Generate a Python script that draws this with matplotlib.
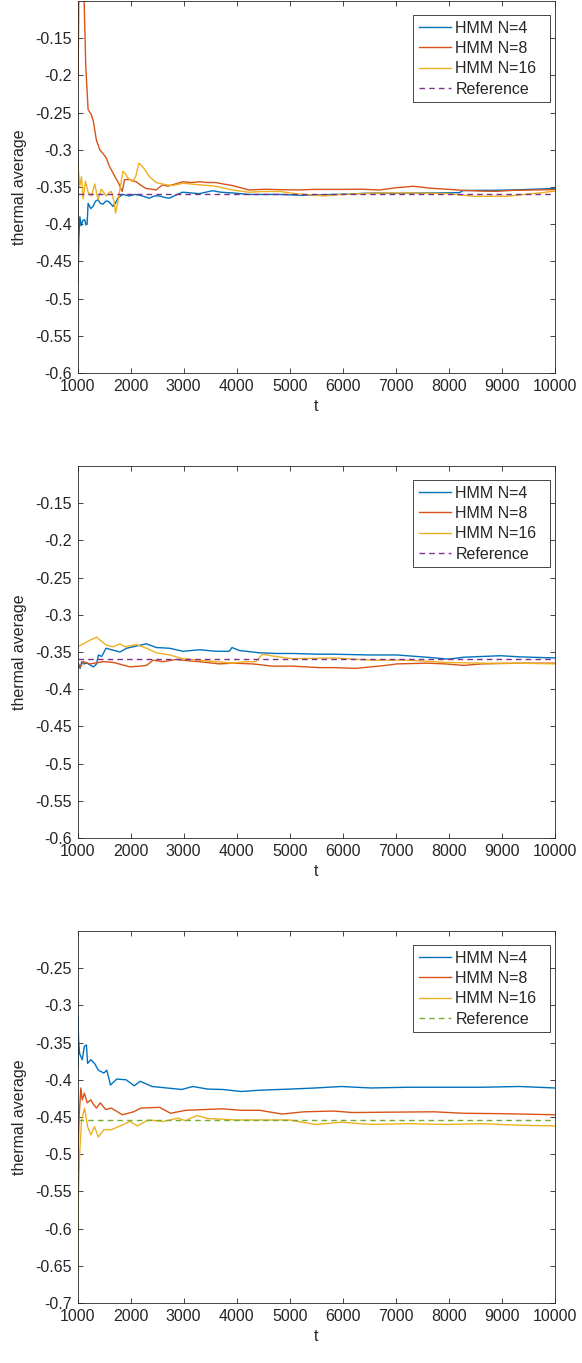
import numpy as np
from matplotlib import pyplot as plt

COLORS = ["#0072BD", "#D95319", "#EDB120", "#7E2F8E", "#77AC30"]
AX_COLOR = "#262626"

plt.rcParams.update({'font.family': ['Liberation Sans', 'DejaVu Sans'],
                     'font.size': 11.5,
                     'axes.edgecolor': AX_COLOR,
                     'axes.labelcolor': AX_COLOR,
                     'axes.linewidth': 0.6,
                     'xtick.color': AX_COLOR,
                     'ytick.color': AX_COLOR,
                     'xtick.direction': 'in',
                     'ytick.direction': 'in',
                     'xtick.major.size': 3.6,
                     'ytick.major.size': 3.6,
                     'xtick.major.width': 0.6,
                     'ytick.major.width': 0.6,
                     })

LABELS = ["HMM N=4", "HMM N=8", "HMM N=16", "Reference"]
X_TICKS = [1000, 2000, 3000, 4000, 5000, 6000, 7000, 8000, 9000, 10000]

# ---- panel 1 ----
p1_t4 = [1000, 1004, 1010, 1025, 1044, 1070, 1100, 1137, 1160, 1181, 1200, 1250, 1294, 1340, 1387, 1430,
         1481, 1530, 1575, 1620, 1668, 1720, 1762, 1810, 1856, 1920, 1981, 2080, 2168, 2260, 2356, 2450,
         2543, 2640, 2731, 2850, 2981, 3150, 3293, 3420, 3543, 3700, 3918, 4231, 4550, 4821, 5150, 5450,
         5800, 6100, 6400, 6700, 7000, 7350, 7700, 8000, 8200, 8270, 8500, 8800, 9200, 9600, 10000]
p1_v4 = [-0.235, -0.30, -0.478, -0.42, -0.39, -0.402, -0.395, -0.394, -0.401, -0.400, -0.372, -0.379,
         -0.376, -0.369, -0.367, -0.372, -0.373, -0.369, -0.369, -0.372, -0.376, -0.371, -0.365, -0.362,
         -0.360, -0.361, -0.362, -0.360, -0.361, -0.363, -0.365, -0.362, -0.362, -0.364, -0.365, -0.361,
         -0.357, -0.358, -0.359, -0.357, -0.355, -0.357, -0.358, -0.360, -0.360, -0.360, -0.361, -0.361,
         -0.360, -0.3595, -0.3585, -0.358, -0.3585, -0.358, -0.358, -0.3578, -0.3575, -0.3548, -0.3545,
         -0.3545, -0.354, -0.353, -0.352]
p1_t8 = [1000, 1005, 1012, 1030, 1060, 1100, 1125, 1156, 1200, 1262, 1300, 1356, 1420, 1480, 1543, 1600,
         1668, 1720, 1762, 1843, 1887, 1980, 2106, 2200, 2293, 2400, 2481, 2606, 2700, 2793, 2981, 3150,
         3293, 3450, 3606, 3750, 3918, 4231, 4543, 4821, 5168, 5450, 6000, 6350, 6700, 7000, 7330, 7640,
         7950, 8270, 8600, 8900, 9210, 9600, 10000]
p1_v8 = [-0.224, -0.17, -0.20, -0.05, 0.0, -0.06, -0.10, -0.188, -0.246, -0.253, -0.262, -0.287, -0.300,
         -0.305, -0.311, -0.322, -0.331, -0.338, -0.343, -0.356, -0.340, -0.340, -0.343, -0.348, -0.352,
         -0.353, -0.354, -0.347, -0.349, -0.347, -0.343, -0.344, -0.343, -0.344, -0.344, -0.346, -0.348,
         -0.354, -0.353, -0.3536, -0.354, -0.3532, -0.3532, -0.353, -0.354, -0.351, -0.349, -0.3515,
         -0.353, -0.3545, -0.3555, -0.3558, -0.3545, -0.354, -0.3535]
p1_t16 = [1000, 1003, 1008, 1020, 1044, 1075, 1106, 1150, 1200, 1262, 1325, 1387, 1450, 1500, 1543, 1590,
          1637, 1690, 1718, 1760, 1793, 1856, 1900, 1950, 2043, 2100, 2156, 2231, 2300, 2356, 2481, 2668,
          2800, 2981, 3150, 3293, 3450, 3606, 3918, 4231, 4500, 4821, 5100, 5450, 5650, 6000, 6700, 7300,
          8000, 8460, 9080, 9700, 10000]
p1_v16 = [-0.61, -0.45, -0.318, -0.33, -0.349, -0.336, -0.366, -0.342, -0.357, -0.362, -0.346, -0.367,
          -0.353, -0.358, -0.362, -0.358, -0.356, -0.37, -0.385, -0.37, -0.356, -0.329, -0.332, -0.338,
          -0.343, -0.335, -0.318, -0.323, -0.330, -0.336, -0.344, -0.347, -0.348, -0.345, -0.346, -0.347,
          -0.348, -0.349, -0.354, -0.357, -0.356, -0.356, -0.359, -0.361, -0.362, -0.360, -0.358, -0.358,
          -0.359, -0.3625, -0.3625, -0.358, -0.3555]
p1_ref = -0.36

# ---- panel 2 ----
p2_t4 = [1000, 1050, 1080, 1120, 1180, 1300, 1360, 1394, 1456, 1537, 1644, 1800, 1925, 2112, 2300, 2487,
         2737, 2987, 3300, 3612, 3862, 3912, 4050, 4425, 4737, 5050, 5550, 5832, 6531, 7021, 7580, 8000,
         8280, 8629, 8979, 9329, 10000]
p2_v4 = [-0.367, -0.372, -0.363, -0.366, -0.365, -0.370, -0.366, -0.354, -0.356, -0.345, -0.347, -0.350,
         -0.345, -0.342, -0.339, -0.344, -0.345, -0.349, -0.347, -0.349, -0.349, -0.344, -0.348, -0.351,
         -0.352, -0.352, -0.353, -0.353, -0.354, -0.354, -0.357, -0.3596, -0.357, -0.356, -0.355, -0.3565,
         -0.358]
p2_t8 = [1000, 1050, 1112, 1237, 1487, 1675, 1987, 2175, 2300, 2425, 2612, 2862, 3112, 3300, 3675, 3925,
         4300, 4675, 5050, 5550, 5832, 6252, 6811, 7021, 7580, 7930, 8280, 8629, 9329, 10000]
p2_v8 = [-0.363, -0.370, -0.363, -0.366, -0.363, -0.364, -0.370, -0.369, -0.368, -0.361, -0.363, -0.360,
         -0.362, -0.363, -0.366, -0.365, -0.366, -0.369, -0.369, -0.371, -0.371, -0.372, -0.368, -0.366,
         -0.365, -0.366, -0.368, -0.366, -0.365, -0.365]
p2_t16 = [1000, 1112, 1237, 1362, 1425, 1550, 1675, 1800, 1894, 2112, 2300, 2487, 2737, 2987, 3300, 3612,
          3925, 4175, 4362, 4487, 4737, 5050, 5832, 6531, 7231, 7931, 8629, 9329, 10000]
p2_v16 = [-0.343, -0.339, -0.334, -0.330, -0.334, -0.341, -0.343, -0.339, -0.343, -0.340, -0.345, -0.351,
          -0.354, -0.359, -0.361, -0.363, -0.365, -0.363, -0.363, -0.353, -0.356, -0.359, -0.358, -0.361,
          -0.361, -0.364, -0.365, -0.365, -0.366]
p2_ref = -0.36

# ---- panel 3 ----
p3_t4 = [1000, 1004, 1010, 1020, 1040, 1090, 1130, 1168, 1190, 1250, 1322, 1392, 1497, 1552, 1622, 1741,
         1916, 2070, 2182, 2406, 2685, 2965, 3175, 3455, 3734, 4084, 4434, 4993, 5483, 5972, 6531, 7231,
         7931, 8629, 9329, 10000]
p3_v4 = [-0.257, -0.384, -0.315, -0.346, -0.365, -0.373, -0.355, -0.353, -0.378, -0.373, -0.378, -0.387,
         -0.391, -0.387, -0.407, -0.399, -0.400, -0.408, -0.402, -0.409, -0.411, -0.413, -0.409, -0.4125,
         -0.413, -0.4157, -0.414, -0.4125, -0.411, -0.409, -0.411, -0.410, -0.410, -0.410, -0.409, -0.411]
p3_t8 = [1000, 1010, 1030, 1063, 1090, 1130, 1182, 1250, 1300, 1357, 1430, 1531, 1636, 1846, 2056, 2196,
         2545, 2755, 3035, 3734, 4084, 4434, 4853, 5273, 5832, 6182, 6881, 7720, 8280, 8979, 10000]
p3_v8 = [-0.57, -0.50, -0.45, -0.411, -0.427, -0.418, -0.431, -0.427, -0.433, -0.438, -0.431, -0.440,
         -0.438, -0.447, -0.443, -0.438, -0.437, -0.445, -0.441, -0.439, -0.441, -0.441, -0.446, -0.443,
         -0.442, -0.444, -0.4435, -0.443, -0.445, -0.4455, -0.447]
p3_t16 = [1000, 1010, 1040, 1077, 1133, 1190, 1252, 1320, 1392, 1497, 1636, 1776, 1986, 2126, 2336, 2615,
          2895, 3035, 3245, 3455, 4014, 4434, 4993, 5483, 5972, 6531, 7231, 7931, 8629, 9329, 10000]
p3_v16 = [-0.71, -0.57, -0.50, -0.454, -0.438, -0.463, -0.474, -0.463, -0.477, -0.467, -0.467, -0.463,
          -0.456, -0.462, -0.454, -0.456, -0.4515, -0.455, -0.448, -0.452, -0.454, -0.454, -0.454, -0.460,
          -0.457, -0.460, -0.459, -0.460, -0.459, -0.461, -0.462]
p3_ref = -0.454

Y_TICKS_12 = ["-0.6", "-0.55", "-0.5", "-0.45", "-0.4", "-0.35", "-0.3", "-0.25", "-0.2", "-0.15"]
Y_TICKS_3 = ["-0.7", "-0.65", "-0.6", "-0.55", "-0.5", "-0.45", "-0.4", "-0.35", "-0.3", "-0.25"]

panels = [
    ((p1_t4, p1_v4), (p1_t8, p1_v8), (p1_t16, p1_v16), p1_ref, COLORS[3], Y_TICKS_12, (-0.6, -0.1)),
    ((p2_t4, p2_v4), (p2_t8, p2_v8), (p2_t16, p2_v16), p2_ref, COLORS[3], Y_TICKS_12, (-0.6, -0.1)),
    ((p3_t4, p3_v4), (p3_t8, p3_v8), (p3_t16, p3_v16), p3_ref, COLORS[4], Y_TICKS_3, (-0.7, -0.2)),
]

W, H = 582, 1363
fig = plt.figure(figsize=(W / 100, H / 100), dpi=100)
bottoms = [373, 838, 1303]

for (s4, s8, s16, ref, ref_color, yt, ylim), bot in zip(panels, bottoms):
    ax = fig.add_axes([77.5 / W, (H - bot) / H, 477.5 / W, 372 / H])
    for (t, v), c, lab in zip([s4, s8, s16], COLORS[:3], LABELS[:3]):
        ax.plot(t, v, color=c, lw=1.0, label=lab)
    ax.plot([X_TICKS[0], X_TICKS[-1]], [ref, ref], color=ref_color, lw=1.0,
            linestyle=(0, (4, 3)), label=LABELS[3])
    ax.set_xlim(X_TICKS[0], X_TICKS[-1])
    ax.set_ylim(*ylim)
    ax.set_xticks(X_TICKS)
    ax.set_xticklabels([str(x) for x in X_TICKS])
    ax.set_yticks([float(s) for s in yt])
    ax.set_yticklabels(yt)
    ax.tick_params(top=True, right=True, labelsize=11.5, pad=4)
    ax.set_xlabel("t", fontsize=11.5, labelpad=4)
    ax.set_ylabel("thermal average", fontsize=11.5, labelpad=6)
    leg = ax.legend(loc="upper right", bbox_to_anchor=(0.7026, 0.962, 0.2869, 0.0), borderaxespad=0,
                    mode="expand", fancybox=False, framealpha=1, edgecolor=AX_COLOR, fontsize=11.5,
                    handlelength=2.0, handletextpad=0.3, labelspacing=0.33, borderpad=0.35)
    leg.get_frame().set_linewidth(0.6)
    for txt in leg.get_texts():
        txt.set_color(AX_COLOR)

fig.savefig("out.png", dpi=100)
